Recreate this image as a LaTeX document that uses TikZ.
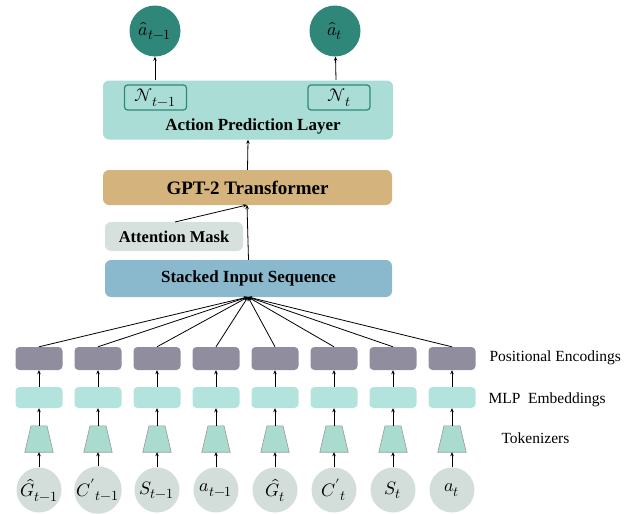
\documentclass[tikz,border=0pt]{standalone}
\usepackage{fontspec}
\usepackage{unicode-math}
\setmainfont{Liberation Serif}
\setmathfont{Latin Modern Math}
\DeclareMathSizes{18}{18}{14}{11}
\usetikzlibrary{arrows.meta}
\definecolor{outc}{HTML}{2F8779}
\definecolor{aplc}{HTML}{A9DDD6}
\definecolor{gptc}{HTML}{D4B47C}
\definecolor{maskc}{HTML}{D6E0DD}
\definecolor{stkc}{HTML}{8AB9CD}
\definecolor{pec}{HTML}{8F8D9E}
\definecolor{mlpc}{HTML}{B3E3DD}
\definecolor{tokc}{HTML}{A9DCCF}
\definecolor{inc}{HTML}{D3DDDA}
\tikzset{
  arr/.style={-{Stealth[length=4pt,width=3.5pt]},line width=0.8pt},
  bigbox/.style={rounded corners=6pt,draw=none,inner sep=0pt},
  smallbox/.style={rounded corners=4pt,draw=none,minimum width=47pt,inner sep=0pt},
  tok/.style={rectangle,draw=none,minimum width=28pt,minimum height=26pt,inner sep=0pt},
  tokshape/.style={fill=tokc,draw=gray!80,line width=0.6pt},
  incirc/.style={circle,fill=inc,minimum size=45pt,inner sep=0pt,font=\fontsize{18}{18}\selectfont},
  outcirc/.style={circle,fill=outc,minimum size=51pt,inner sep=0pt,font=\fontsize{18}{18}\selectfont},
  lab/.style={anchor=west,font=\fontsize{15.5}{15.5}\selectfont},
  nbox/.style={rounded corners=3pt,draw=outc,line width=1.2pt,fill=aplc,minimum width=62pt,minimum height=25pt,inner sep=0pt,font=\fontsize{18}{18}\selectfont}
}
\begin{document}
\begin{tikzpicture}[x=1pt,y=-1pt]
\useasboundingbox (0,0) rectangle (633,514);
% output circles
\node[outcirc] (o1) at (155,31) {$\hat{a}_{t-1}$};
\node[outcirc] (o2) at (335,31) {$\hat{a}_{t}$};
% action prediction layer
\node[bigbox,fill=aplc,minimum width=290pt,minimum height=59pt] (apl) at (248,110) {};
\node[font=\bfseries\fontsize{17}{17}\selectfont] (apltxt) at (253,126) {Action Prediction Layer};
\node[nbox] (n1) at (155.5,97.5) {$\mathcal{N}_{t-1}$};
\node[nbox] (n2) at (339,97.5) {$\mathcal{N}_{t}$};
\coordinate (n1top) at (155,80);
\coordinate (n2top) at (336,80);
\draw[arr] (n1top) -- (o1);
\draw[arr] (n2top) -- (o2);
% GPT
\node[bigbox,fill=gptc,minimum width=289pt,minimum height=35pt,font=\bfseries\fontsize{19}{19}\selectfont] (gpt) at (247.5,187.5) {GPT-2 Transformer};
% attention mask
\node[bigbox,fill=maskc,minimum width=138pt,minimum height=29pt,font=\bfseries\fontsize{16.5}{16.5}\selectfont] (mask) at (174,236.5) {Attention Mask};
% stacked
\node[bigbox,fill=stkc,minimum width=287pt,minimum height=37pt,font=\bfseries\fontsize{17}{17}\selectfont] (stk) at (248.5,278.5) {Stacked Input Sequence};
\coordinate (masktop) at (175,222);
\coordinate (gptin) at (247,205);
\draw[arr] (stk.north) -- (gptin);
\draw[arr] (masktop) -- (gptin);
\draw[arr] (gpt.north) -- (apl.south);
\coordinate (hub) at (248,297);
% columns
\foreach \i/\x/\lbl in {1/39/{\hat{G}_{t-1}},2/98/{{C'}_{t-1}},3/157/{S_{t-1}},4/216/{a_{t-1}},5/275/{\hat{G}_{t}},6/334/{{C'}_{t}},7/393/{S_{t}},8/452/{a_{t}}}{
  \node[smallbox,fill=pec,minimum height=23pt] (pe\i) at (\x,358.5) {};
  \node[smallbox,fill=mlpc,minimum height=21pt] (mlp\i) at (\x,397.5) {};
  \node[tok] (tk\i) at (\x,439) {};
  \draw[tokshape] ([xshift=-8pt]tk\i.north) -- ([xshift=8pt]tk\i.north) -- (tk\i.south east) -- (tk\i.south west) -- cycle;
  \node[incirc] (in\i) at (\x,490) {$\lbl$};
  \draw[arr] (in\i) -- (tk\i);
  \draw[arr] (tk\i) -- (mlp\i);
  \draw[arr] (mlp\i) -- (pe\i);
  \draw[arr] (pe\i.north) -- (hub);
}
\node[lab] (l1) at (486,358) {Positional Encodings};
\node[lab] (l2) at (485,400) {MLP\ \ Embeddings};
\node[lab] (l3) at (498,438) {Tokenizers};
\end{tikzpicture}
\end{document}
